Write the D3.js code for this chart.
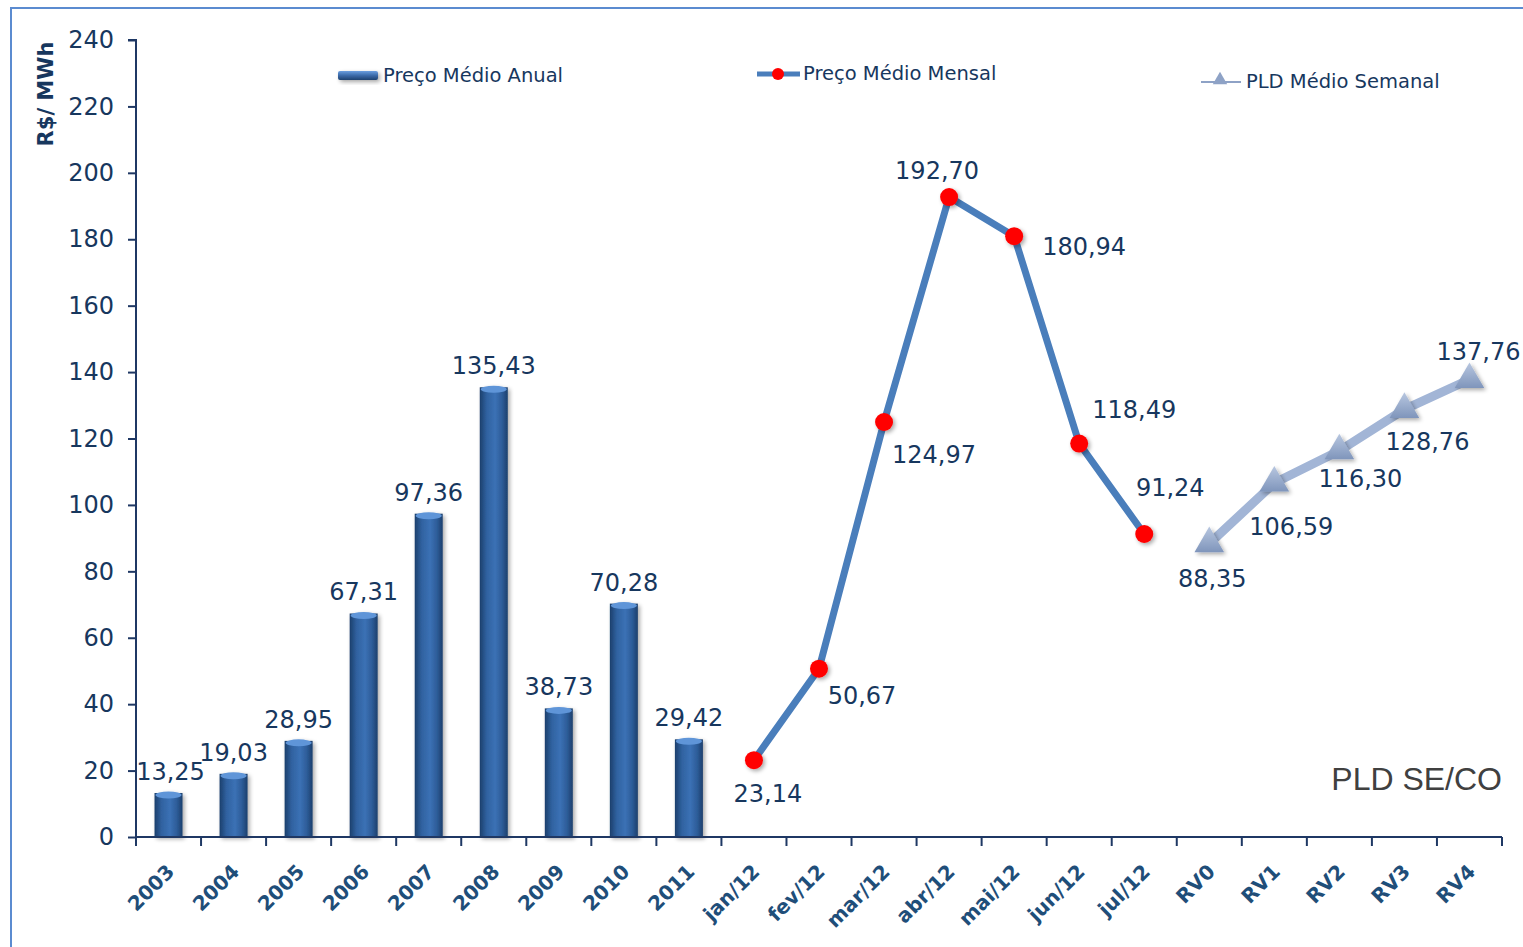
<!DOCTYPE html>
<html><head><meta charset="utf-8">
<script src="https://cdn.jsdelivr.net/npm/d3@7"></script>
<style>
html,body{margin:0;padding:0;background:#fff;}
svg{display:block;font-family:"DejaVu Sans",Verdana,sans-serif;}
</style></head>
<body>
<svg id="chart" width="1523" height="947"></svg>
<script>
// ---- data ----
const years = ["2003","2004","2005","2006","2007","2008","2009","2010","2011"];
const annualValues = [13.25,19.03,28.95,67.31,97.36,135.43,38.73,70.28,29.42];
const months = ["jan/12","fev/12","mar/12","abr/12","mai/12","jun/12","jul/12"];
const monthlyValues = [23.14,50.67,124.97,192.70,180.94,118.49,91.24];
const weeks = ["RV0","RV1","RV2","RV3","RV4"];
const weeklyValues = [88.35,106.59,116.30,128.76,137.76];
const yTicks = [0,20,40,60,80,100,120,140,160,180,200,220,240];
const seriesNames = ["Preço Médio Anual","Preço Médio Mensal","PLD Médio Semanal"];
const yTitle = "R$/ MWh";
const regionLabel = "PLD SE/CO";

// label placement offsets (layout, not data)
const monthlyLabelOff = [[14,42],[43,35],[50,41],[-12,-18],[70,19],[55,-26],[26,-38]];
const weeklyLabelOff = [[3,43],[17,52],[21,36],[23,41],[9,-20]];

const fmt = v => v.toFixed(2).replace(".", ",");
const categories = years.concat(months, weeks);

const svg = d3.select("#chart");
const W = 1523, H = 947;
const x = d3.scaleBand().domain(categories).range([136, 1502]).padding(0);
const y = d3.scaleLinear().domain([0, 240]).range([837, 40]);
const cx = c => x(c) + x.bandwidth() / 2;

const navy = "#1f3864";
const textBlue = "#17375e";
const LBL = 24;

// defs
const defs = svg.append("defs");
const bg = defs.append("linearGradient").attr("id","barGrad").attr("x1","0").attr("x2","1").attr("y1","0").attr("y2","0");
[["0%","#1c3f6c"],["25%","#3062a0"],["55%","#3b71b5"],["80%","#2d5c98"],["100%","#1c3f6c"]].forEach(s=>bg.append("stop").attr("offset",s[0]).attr("stop-color",s[1]));
const lg = defs.append("linearGradient").attr("id","legGrad").attr("x1","0").attr("x2","0").attr("y1","0").attr("y2","1");
[["0%","#6b9ee0"],["50%","#3a6aa8"],["100%","#1f416f"]].forEach(s=>lg.append("stop").attr("offset",s[0]).attr("stop-color",s[1]));
const tg = defs.append("linearGradient").attr("id","triGrad").attr("x1","0").attr("x2","0").attr("y1","0").attr("y2","1");
[["0%","#b8c7e0"],["100%","#7f95bb"]].forEach(s=>tg.append("stop").attr("offset",s[0]).attr("stop-color",s[1]));
const sh = defs.append("filter").attr("id","shadow").attr("x","-50%").attr("y","-50%").attr("width","200%").attr("height","200%");
sh.append("feGaussianBlur").attr("in","SourceAlpha").attr("stdDeviation",2).attr("result","b");
sh.append("feOffset").attr("in","b").attr("dx",2).attr("dy",2).attr("result","o");
sh.append("feComponentTransfer").attr("in","o").attr("result","o2").append("feFuncA").attr("type","linear").attr("slope",0.35);
const mg = sh.append("feMerge"); mg.append("feMergeNode").attr("in","o2"); mg.append("feMergeNode").attr("in","SourceGraphic");

// frame border
svg.append("line").attr("x1",11).attr("x2",11).attr("y1",8).attr("y2",H).attr("stroke","#5b8bd0").attr("stroke-width",2);
svg.append("line").attr("x1",10).attr("x2",W).attr("y1",8).attr("y2",8).attr("stroke","#5b8bd0").attr("stroke-width",2);

// bars
const bars = svg.append("g");
const bw = 28;
years.forEach((c,i)=>{
  const v = annualValues[i];
  const g = bars.append("g").attr("filter","url(#shadow)");
  g.append("rect").attr("x",cx(c)-bw/2).attr("y",y(v)).attr("width",bw).attr("height",y(0)-y(v)).attr("fill","url(#barGrad)");
  g.append("ellipse").attr("cx",cx(c)).attr("cy",y(v)+2).attr("rx",bw/2-1).attr("ry",3.5).attr("fill","#5f95d8");
});
years.forEach((c,i)=>{
  const v = annualValues[i];
  svg.append("text").attr("x", i===0 ? cx(c)+2 : cx(c)).attr("y", y(v)-13)
    .attr("text-anchor","middle").attr("font-size",LBL).attr("fill",textBlue).text(fmt(v));
});

// axes
const yAxis = d3.axisLeft(y).tickValues(yTicks).tickSize(8).tickPadding(14).tickFormat(d=>d);
const gy = svg.append("g").attr("transform","translate(136,0)").call(yAxis);
gy.attr("font-family",null).attr("font-size",null);
gy.select(".domain").attr("stroke",navy).attr("stroke-width",2).attr("d","M-8,40H0V837");
gy.selectAll(".tick line").attr("stroke",navy).attr("stroke-width",2);
gy.selectAll(".tick text").attr("font-size",LBL).attr("fill",textBlue);

const xAxis = d3.axisBottom(x).tickSize(0).tickFormat(d=>d);
const gx = svg.append("g").attr("transform","translate(0,837)").call(xAxis);
gx.attr("font-family",null).attr("font-size",null);
gx.select(".domain").attr("stroke",navy).attr("stroke-width",2).attr("d","M136,0H1502");
gx.selectAll(".tick text")
  .attr("font-size",20).attr("font-weight","bold").attr("fill","#1f4e79")
  .attr("text-anchor","end").attr("dy",null).attr("y",null)
  .attr("transform","translate(7,36) rotate(-45)");
// boundary ticks
const bounds = categories.map(c=>x(c)).concat([x.range()[1]]);
svg.append("g").selectAll("line").data(bounds).join("line")
  .attr("x1",d=>d).attr("x2",d=>d).attr("y1",837).attr("y2",846).attr("stroke",navy).attr("stroke-width",2);

// y title
svg.append("text").attr("transform","translate(53,94) rotate(-90)").attr("text-anchor","middle")
  .attr("font-size",21).attr("font-weight","bold").attr("fill",textBlue).text(yTitle);

// monthly line
const line = d3.line().x(d=>cx(d[0])).y(d=>y(d[1]));
const mData = months.map((m,i)=>[m,monthlyValues[i]]);
svg.append("path").datum(mData).attr("d",line).attr("fill","none").attr("stroke","#4a7ebb").attr("stroke-width",7).attr("stroke-linejoin","round");
svg.append("g").selectAll("circle").data(mData).join("circle")
  .attr("cx",d=>cx(d[0])).attr("cy",d=>y(d[1])).attr("r",9).attr("fill","#ff0000").attr("filter","url(#shadow)");
mData.forEach((d,i)=>{
  svg.append("text").attr("x",cx(d[0])+monthlyLabelOff[i][0]).attr("y",y(d[1])+monthlyLabelOff[i][1])
   .attr("text-anchor","middle").attr("font-size",LBL).attr("fill",textBlue).text(fmt(d[1]));
});

// weekly line
const wData = weeks.map((w,i)=>[w,weeklyValues[i]]);
svg.append("path").datum(wData).attr("d",line).attr("fill","none").attr("stroke","#a2b5d6").attr("stroke-width",9).attr("stroke-linejoin","round");
const tri = d3.symbol().type(d3.symbolTriangle).size(380);
svg.append("g").selectAll("path").data(wData).join("path")
  .attr("transform",d=>`translate(${cx(d[0])},${y(d[1])})`).attr("d",tri).attr("fill","url(#triGrad)").attr("filter","url(#shadow)");
wData.forEach((d,i)=>{
  svg.append("text").attr("x",cx(d[0])+weeklyLabelOff[i][0]).attr("y",y(d[1])+weeklyLabelOff[i][1])
   .attr("text-anchor","middle").attr("font-size",LBL).attr("fill",textBlue).text(fmt(d[1]));
});

// region label
svg.append("text").attr("x",1502).attr("y",790).attr("text-anchor","end")
  .style("font-family","'Liberation Sans', Arial, sans-serif")
  .attr("font-size",32).attr("fill","#404040").text(regionLabel);

// legends
const leg = svg.append("g");
const LEG = 19.5;
leg.append("rect").attr("x",338).attr("y",71).attr("width",40).attr("height",9).attr("rx",2).attr("fill","url(#legGrad)").attr("filter","url(#shadow)");
leg.append("text").attr("x",383).attr("y",82).attr("font-size",LEG).attr("fill",textBlue).text(seriesNames[0]);
leg.append("line").attr("x1",757).attr("x2",800).attr("y1",74).attr("y2",74).attr("stroke","#4a7ebb").attr("stroke-width",5);
leg.append("circle").attr("cx",778).attr("cy",74).attr("r",6).attr("fill","#ff0000");
leg.append("text").attr("x",803).attr("y",80).attr("font-size",LEG).attr("fill",textBlue).text(seriesNames[1]);
leg.append("line").attr("x1",1201).attr("x2",1241).attr("y1",82).attr("y2",82).attr("stroke","#8ea2c6").attr("stroke-width",2);
leg.append("path").attr("transform","translate(1220,80)").attr("d",d3.symbol().type(d3.symbolTriangle).size(90)).attr("fill","#8ea2c6");
leg.append("text").attr("x",1246).attr("y",88).attr("font-size",LEG).attr("fill",textBlue).text(seriesNames[2]);
</script>
</body></html>
